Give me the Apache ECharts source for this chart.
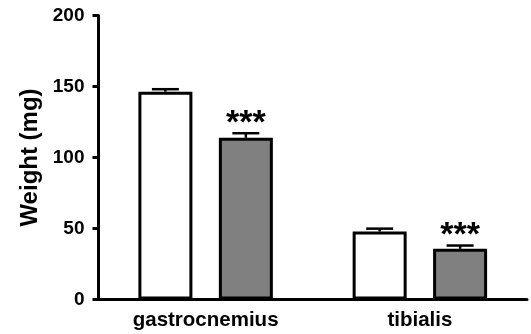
<!DOCTYPE html>
<html>
<head>
<meta charset="utf-8">
<script src="https://cdn.jsdelivr.net/npm/echarts@6/dist/echarts.min.js"></script>
<style>
  html, body { margin: 0; padding: 0; background: #fff; }
  #chart { width: 531px; height: 334px; }
</style>
</head>
<body>
<div id="chart"></div>
<script>
// Muscle weights (mg), mean ± SEM
const categories = ['gastrocnemius', 'tibialis'];
const controlMean = [146.3, 47.9];
const controlSem = [1.8, 2.0];
const treatedMean = [113.9, 35.7];
const treatedSem = [3.2, 2.3];
const significance = ['***', '***'];
const yTicks = [0, 50, 100, 150, 200];

const FONT = '"Liberation Sans", Arial, Helvetica, sans-serif';
const BAR_W = 54;
const BAR_GAP = 0.49;
const HALF_STEP = (BAR_W + BAR_W * BAR_GAP) / 2;

// Draws the upper half of an error bar (stem + cap), optionally with a marker above it
function errorBar(offset, marks) {
  return function (params, api) {
    const i = api.value(0);
    const base = api.coord([i, api.value(1)]);
    const top = api.coord([i, api.value(1) + api.value(2)]);
    const x = base[0] + offset;
    const children = [
      { type: 'line', shape: { x1: x, y1: base[1], x2: x, y2: top[1] },
        style: { stroke: '#000', lineWidth: 2.5 } },
      { type: 'line', shape: { x1: x - 13.5, y1: top[1], x2: x + 13.5, y2: top[1] },
        style: { stroke: '#000', lineWidth: 2.5 } }
    ];
    if (marks) {
      children.push({
        type: 'text', x: x, y: top[1] - 10,
        style: { text: marks[i], fill: '#000', font: 'bold 34px ' + FONT,
                 align: 'center', verticalAlign: 'middle' }
      });
    }
    return { type: 'group', children: children };
  };
}

const chart = echarts.init(document.getElementById('chart'), null, { renderer: 'canvas' });
chart.setOption({
  animation: false,
  backgroundColor: '#fff',
  grid: { left: 98.5, right: 4, top: 15.5, bottom: 34.5, containLabel: false },
  xAxis: {
    type: 'category',
    data: categories,
    axisLine: { show: true, lineStyle: { color: '#000', width: 3 } },
    axisTick: { show: false },
    axisLabel: { color: '#000', fontFamily: FONT, fontWeight: 'bold', fontSize: 20.5, margin: 10 }
  },
  yAxis: {
    type: 'value',
    min: yTicks[0],
    max: yTicks[yTicks.length - 1],
    interval: yTicks[1] - yTicks[0],
    name: 'Weight (mg)',
    nameLocation: 'middle',
    nameGap: 54,
    nameTextStyle: { color: '#000', fontFamily: FONT, fontWeight: 'bold', fontSize: 24 },
    axisLine: { show: true, lineStyle: { color: '#000', width: 3 } },
    axisTick: { show: true, inside: false, length: 6, lineStyle: { color: '#000', width: 3 } },
    axisLabel: { color: '#000', fontFamily: FONT, fontWeight: 'bold', fontSize: 19, margin: 14 },
    splitLine: { show: false }
  },
  series: [
    {
      type: 'bar', name: 'control', data: controlMean,
      barWidth: BAR_W, barGap: (BAR_GAP * 100) + '%',
      itemStyle: { color: '#ffffff', borderColor: '#000', borderWidth: 3 }
    },
    {
      type: 'bar', name: 'treated', data: treatedMean,
      barWidth: BAR_W,
      itemStyle: { color: '#808080', borderColor: '#000', borderWidth: 3 }
    },
    {
      type: 'custom', z: 5,
      data: controlMean.map((m, i) => [i, m, controlSem[i]]),
      renderItem: errorBar(-HALF_STEP, null)
    },
    {
      type: 'custom', z: 5,
      data: treatedMean.map((m, i) => [i, m, treatedSem[i]]),
      renderItem: errorBar(HALF_STEP, significance)
    }
  ]
});
</script>
</body>
</html>
